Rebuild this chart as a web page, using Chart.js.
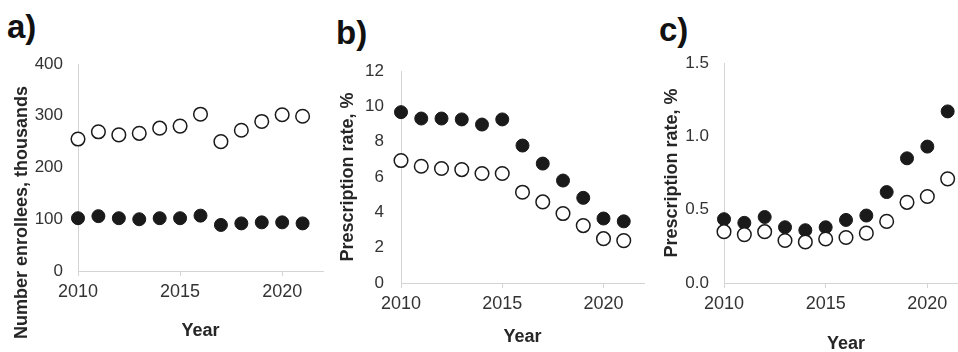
<!DOCTYPE html>
<html>
<head>
<meta charset="utf-8">
<script src="https://cdn.jsdelivr.net/npm/chart.js@4.4.1/dist/chart.umd.min.js"></script>
<style>
  html, body { margin: 0; padding: 0; background: #fff; width: 958px; height: 352px; overflow: hidden; position: relative; }
  .panel { position: absolute; top: 0; }
  .lbl { position: absolute; font: bold 33px "Liberation Sans", Arial, sans-serif; line-height: 33px; color: #111; }
</style>
</head>
<body>
<div class="lbl" style="left:7px;top:10px">a)</div>
<div class="lbl" style="left:336px;top:16px">b)</div>
<div class="lbl" style="left:659px;top:13px">c)</div>

<div class="panel" style="left:0px"><canvas id="chartA" width="340" height="360"></canvas></div>
<div class="panel" style="left:325px"><canvas id="chartB" width="330" height="360"></canvas></div>
<div class="panel" style="left:650px"><canvas id="chartC" width="340" height="360"></canvas></div>

<script>
const years = [2010, 2011, 2012, 2013, 2014, 2015, 2016, 2017, 2018, 2019, 2020, 2021]
const xTicks = [2010, 2015, 2020]

// a) enrollees, thousands
const enrollOpen   = [255, 269, 263, 266, 276, 280, 303, 250, 272, 289, 302, 299]
const enrollFilled = [102, 106, 102, 100, 102, 102, 107,  89,  92,  94,  94,  92]

// b) prescription rate, %
const rateBOpen   = [6.93, 6.61, 6.48, 6.42, 6.20, 6.20, 5.14, 4.59, 3.93, 3.25, 2.51, 2.40]
const rateBFilled = [9.67, 9.31, 9.31, 9.26, 8.97, 9.26, 7.78, 6.76, 5.80, 4.82, 3.65, 3.49]

// c) prescription rate, %
const rateCOpen   = [0.35, 0.33, 0.35, 0.29, 0.28, 0.30, 0.31, 0.34, 0.42, 0.55, 0.59, 0.71]
const rateCFilled = [0.435, 0.41, 0.45, 0.38, 0.36, 0.38, 0.43, 0.46, 0.62, 0.85, 0.93, 1.17]

// y axis: min, max, step
const yTicksA = [0, 400, 100]
const yTicksB = [0, 12, 2]
const yTicksC = [0, 1.5, 0.5]

Chart.defaults.font.family = "'Liberation Sans', Arial, sans-serif"

function points(vals) {
    return vals.map(function(v, i) { return {x: years[i], y: v} })
}

function panel(id, p) {
    const data = {
        datasets: [{
            data: points(p.open),
            backgroundColor: '#ffffff',
            borderColor: '#1a1a1a',
            borderWidth: 1.5,
            pointRadius: 6.8,
            clip: false
        }, {
            data: points(p.filled),
            backgroundColor: '#1a1a1a',
            borderColor: '#1a1a1a',
            borderWidth: 1,
            pointRadius: 6.5,
            clip: false
        }]
    }

    const config = {
        type: 'scatter',
        data: data,
        options: {
            responsive: false,
            animation: false,
            layout: { padding: { top: p.top, right: p.right, left: 0, bottom: 0 } },
            plugins: { legend: { display: false }, tooltip: { enabled: false } },
            scales: {
                x: {
                    type: 'linear', min: 2010, max: 2022,
                    afterFit: function(s) { s.height = 360 - p.bottom },
                    afterBuildTicks: function(s) { s.ticks = xTicks.map(function(v) { return {value: v} }) },
                    ticks: { autoSkip: false, padding: 5, color: '#333', font: { size: 18 },
                             callback: function(v) { return String(v) } },
                    grid: { drawOnChartArea: false, drawTicks: true, tickLength: 5, color: '#d4d4d4' },
                    border: { color: '#d4d4d4' },
                    title: { display: true, text: 'Year', color: '#262626',
                             font: { size: 18, weight: 'bold' }, padding: { top: 0, bottom: p.xTitlePad } }
                },
                y: {
                    min: p.yTicks[0], max: p.yTicks[1],
                    afterFit: function(s) { s.width = p.yWidth },
                    ticks: { stepSize: p.yTicks[2], padding: p.yTickPad, color: '#333', font: { size: 17 },
                             callback: p.yFormat },
                    grid: { drawOnChartArea: false, drawTicks: false, color: '#d4d4d4' },
                    border: { color: '#d4d4d4' },
                    title: { display: true, text: p.yTitle, color: '#262626',
                             font: { size: 18, weight: 'bold' }, padding: { top: p.yTitlePad, bottom: 0 } }
                }
            }
        }
    }

    return new Chart(document.getElementById(id), config)
}

panel('chartA', {
    open: enrollOpen, filled: enrollFilled, yTicks: yTicksA,
    yTitle: 'Number enrollees, thousands                  ',
    yFormat: function(v) { return String(v) },
    top: 64, bottom: 271, right: 17, yWidth: 78, yTickPad: 15, yTitlePad: 11, xTitlePad: 18
})

panel('chartB', {
    open: rateBOpen, filled: rateBFilled, yTicks: yTicksB,
    yTitle: 'Prescription rate, %',
    yFormat: function(v) { return String(v) },
    top: 71, bottom: 283, right: 11, yWidth: 76, yTickPad: 17, yTitlePad: 12, xTitlePad: 12
})

panel('chartC', {
    open: rateCOpen, filled: rateCFilled, yTicks: yTicksC,
    yTitle: 'Prescription rate, %',
    yFormat: function(v) { return v.toFixed(1) },
    top: 63, bottom: 283, right: 22, yWidth: 74, yTickPad: 15, yTitlePad: 11, xTitlePad: 5
})
</script>
</body>
</html>
